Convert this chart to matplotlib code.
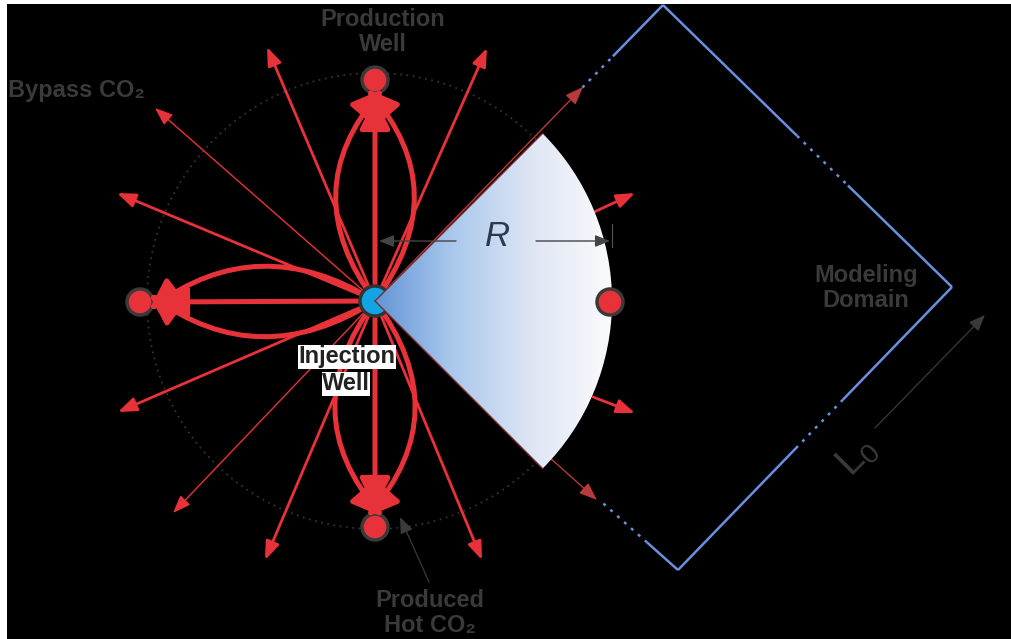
import numpy as np
import matplotlib
matplotlib.use("Agg")
import matplotlib.pyplot as plt
from matplotlib.patches import Circle, Wedge, FancyArrowPatch, Rectangle, ArrowStyle
from matplotlib.colors import LinearSegmentedColormap

# ---------------- data (pixel coordinates of the schematic) ----------------
injection_well = (375, 301)
production_wells = [(375, 80), (140, 302), (375, 527)]
outer_well = (610, 302)
# thick flow arrows: (end point, curvature)
thick_arrows = [((375, 98), 0.0), ((367, 89), 0.40), ((383, 89), -0.40),
                ((156, 302), 0.0), ((149, 294), -0.34), ((149, 310), 0.34),
                ((375, 509), 0.0), ((367, 517), -0.40), ((383, 517), 0.40)]
# thin bypass arrows from the injection well
thin_tips = [(267, 47), (487, 48), (155, 108), (117, 193),
             (118, 412), (173, 513), (265, 560), (482, 560)]
thin_widths = [2.0, 2.0, 1.0, 2.0, 2.0, 1.0, 2.0, 2.0]
edge_tips = [(583, 87), (597, 500)]
short_arrows = [((592, 213), (635, 193)), ((593, 397), (635, 413))]
domain_corners = [(375, 300), (663, 5), (952, 287), (678, 570)]
# (start fraction, end fraction, style) along each edge L->T, T->R, R->B, B->L
domain_segments = [[(0.72, 0.826, 'dot'), (0.826, 1.0, 'solid')],
                   [(0.0, 0.464, 'solid'), (0.464, 0.64, 'dot'), (0.64, 1.0, 'solid')],
                   [(0.0, 0.398, 'solid'), (0.398, 0.562, 'dot'), (0.562, 1.0, 'solid')],
                   [(0.0, 0.102, 'solid'), (0.102, 0.248, 'dot')]]
sector_radius = 237
circle_radius = 228
labels = {"prod": "Production\nWell", "bypass": "Bypass CO\u2082",
          "domain": "Modeling\nDomain", "hot": "Produced\nHot CO\u2082"}

W, H = 1011, 639
RED = '#e8323a'
TXT = '#3a3a3a'
BLUE = '#6b8fe0'

fig = plt.figure(figsize=(W / 100, H / 100), dpi=100, facecolor='black')
ax = fig.add_axes([0, 0, 1, 1])
ax.set_facecolor('black')
ax.set_xlim(0, W)
ax.set_ylim(H, 0)
ax.axis('off')

plt.rcParams['font.family'] = ['Liberation Sans', 'DejaVu Sans']

cx, cy = injection_well

# dotted reference circle
th = np.linspace(0, 2 * np.pi, 400)
ax.plot(cx + circle_radius * np.cos(th), cy + circle_radius * np.sin(th),
        color='#333333', lw=1.3, ls=(0, (1, 2.5)), zorder=1)

# modeling domain (rotated square)
for k, segs in enumerate(domain_segments):
    p0 = np.array(domain_corners[k], float)
    p1 = np.array(domain_corners[(k + 1) % 4], float)
    for a, b, st in segs:
        q0 = p0 + a * (p1 - p0)
        q1 = p0 + b * (p1 - p0)
        ax.plot([q0[0], q1[0]], [q0[1], q1[1]], color=BLUE, lw=1.8,
                ls='-' if st == 'solid' else (0, (1.2, 2.5)), zorder=2,
                solid_capstyle='butt')

# production wells
for (x, y) in production_wells:
    ax.add_patch(Circle((x, y), 13, facecolor=RED, edgecolor='#3a3a3a', lw=2.5, zorder=3))

thin_style = ArrowStyle("-|>", head_length=1.0, head_width=0.38)
thick_style = ArrowStyle("-|>", head_length=0.85, head_width=0.42)

# thin radial arrows
for (tx, ty), lw in zip(thin_tips, thin_widths):
    ax.add_patch(FancyArrowPatch((cx, cy), (tx, ty), arrowstyle=thin_style,
                                 mutation_scale=11, lw=lw, color=RED,
                                 shrinkA=0, shrinkB=0, zorder=4))
for (tx, ty) in edge_tips:
    ax.add_patch(FancyArrowPatch((cx, cy), (tx, ty), arrowstyle=thin_style,
                                 mutation_scale=11, lw=1.0, color='#b83a3a',
                                 shrinkA=0, shrinkB=0, zorder=4))
for (a, b) in short_arrows:
    ax.add_patch(FancyArrowPatch(a, b, arrowstyle=thin_style,
                                 mutation_scale=11, lw=2.0, color=RED,
                                 shrinkA=0, shrinkB=0, zorder=4))

# thick flow arrows
for (ex, ey), rad in thick_arrows:
    ax.add_patch(FancyArrowPatch((cx, cy), (ex, ey), arrowstyle=thick_style,
                                 connectionstyle=f"arc3,rad={rad}",
                                 mutation_scale=22, lw=3.6, color=RED,
                                 shrinkA=0, shrinkB=0, zorder=5))

# injection well
ax.add_patch(Circle((cx, cy), 15, facecolor='#12a5e6', edgecolor='#333333', lw=2.5, zorder=6))

# gradient sector
wedge = Wedge((cx, cy), sector_radius, -45, 45, facecolor='none',
              edgecolor='none', lw=0, zorder=8)
ax.add_patch(wedge)
cmap = LinearSegmentedColormap.from_list('g', ['#6394d6', '#abc9ec', '#dfe6f4', '#fbfbfd'])
grad = np.linspace(0, 1, 256).reshape(1, -1)
im = ax.imshow(grad, cmap=cmap, extent=(cx, cx + sector_radius, cy + sector_radius, cy - sector_radius),
               aspect='auto', zorder=7, interpolation='bilinear')
im.set_clip_path(wedge)
r45 = sector_radius / np.sqrt(2)
for sgn in (-1, 1):
    ax.plot([cx, cx + r45], [cy, cy + sgn * r45], color='#7a2a2a', lw=1.0, zorder=8)
ax.set_xlim(0, W)
ax.set_ylim(H, 0)

# outer production well sits on the sector edge
ax.add_patch(Circle(outer_well, 13, facecolor=RED, edgecolor='#3a3a3a', lw=2.5, zorder=9))

# R dimension
dim_style = ArrowStyle("-|>", head_length=1.0, head_width=0.4)
ax.add_patch(FancyArrowPatch((456, 241), (379, 241), arrowstyle=dim_style,
                             mutation_scale=9, lw=1.0, color='#444444', shrinkA=0, shrinkB=0, zorder=9))
ax.add_patch(FancyArrowPatch((536, 241), (610, 241), arrowstyle=dim_style,
                             mutation_scale=9, lw=1.0, color='#444444', shrinkA=0, shrinkB=0, zorder=9))
ax.plot([612, 612], [224, 247], color='#555555', lw=0.8, zorder=9)
ax.text(497, 236, "R", fontsize=25, style='italic', color='#2b3a4f', ha='center', va='center', zorder=10)

# L0 dimension
ax.add_patch(FancyArrowPatch((875, 428), (985, 315), arrowstyle=dim_style,
                             mutation_scale=10, lw=0.9, color='#3a3a3a', shrinkA=0, shrinkB=0, zorder=9))
ax.text(857, 456, r"$\mathregular{L_0}$", fontsize=29, color='#3a3a3a', rotation=45,
        ha='center', va='center', rotation_mode='anchor', zorder=10)

# produced hot CO2 pointer
ax.add_patch(FancyArrowPatch((429, 582), (400, 517), arrowstyle=dim_style,
                             mutation_scale=10, lw=0.9, color='#3a3a3a', shrinkA=0, shrinkB=0, zorder=9))

# labels
fs = 17
ax.text(383, 32, labels["prod"], fontsize=fs, fontweight='bold', color=TXT,
        ha='center', va='center', linespacing=1.12, zorder=10)
ax.text(8, 91, labels["bypass"], fontsize=fs, fontweight='bold', color=TXT,
        ha='left', va='center', zorder=10)
ax.text(866, 288, labels["domain"], fontsize=fs, fontweight='bold', color=TXT,
        ha='center', va='center', linespacing=1.12, zorder=10)
ax.text(430, 613, labels["hot"], fontsize=fs, fontweight='bold', color=TXT,
        ha='center', va='center', linespacing=1.12, zorder=10)
ax.text(347, 357, "Injection", fontsize=fs, fontweight='bold', color='#222222',
        ha='center', va='center', zorder=10,
        bbox=dict(facecolor='white', edgecolor='none', pad=0.3))
ax.text(346, 384, "Well", fontsize=fs, fontweight='bold', color='#222222',
        ha='center', va='center', zorder=10,
        bbox=dict(facecolor='white', edgecolor='none', pad=0.3))

# white margins
ax.add_patch(Rectangle((0, 0), 7, H, facecolor='white', edgecolor='none', zorder=20))
ax.add_patch(Rectangle((0, 0), W, 4, facecolor='white', edgecolor='none', zorder=20))

fig.savefig('out.png', dpi=100, facecolor='black')
